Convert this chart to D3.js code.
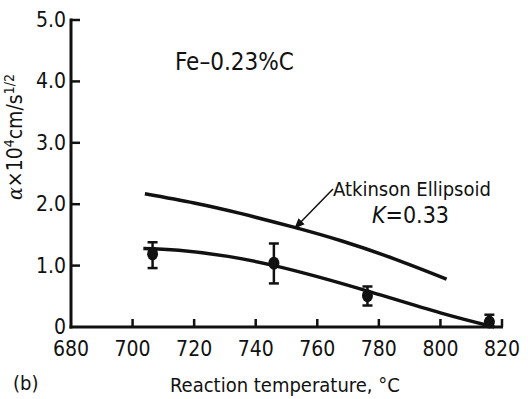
<!DOCTYPE html>
<html>
<head>
<meta charset="utf-8">
<script src="https://cdn.jsdelivr.net/npm/d3@7"></script>
<style>
  body { margin: 0; background: #fff; }
  svg text { font-family: "DejaVu Sans Condensed", "DejaVu Sans", sans-serif; font-stretch: condensed; fill: #111; }
</style>
</head>
<body>
<script>
// measured points (temperature, alpha, error low, error high)
var temps = [706.5, 745.9, 776.3, 815.9];
var alphas = [1.19, 1.04, 0.51, 0.08];
var errLow = [0.96, 0.71, 0.35, 0.0];
var errHigh = [1.38, 1.36, 0.66, 0.2];

// Atkinson ellipsoid curve, K = 0.33
var atkT = [704, 720, 735, 752, 768, 785, 802];
var atkA = [2.17, 2.02, 1.85, 1.63, 1.40, 1.11, 0.78];

// fitted curve through points
var fitT = [703.5, 715, 731, 746, 760, 778, 800, 817.5];
var fitA = [1.28, 1.25, 1.15, 1.0, 0.82, 0.56, 0.23, 0.0];

var xTicks = [680, 700, 720, 740, 760, 780, 800, 820];
var yTicks = [0, 1, 2, 3, 4, 5];

var W = 528, H = 399;
var svg = d3.select('body').append('svg').attr('width', W).attr('height', H);

var x = d3.scaleLinear().domain([680, 820]).range([71, 502]);
var y = d3.scaleLinear().domain([0, 5]).range([327, 20]);

// axes
svg.append('line').attr('x1', x(680)).attr('x2', x(680)).attr('y1', y(5) - 1.5).attr('y2', y(0) + 1.5)
    .attr('stroke', '#111').attr('stroke-width', 3);
svg.append('line').attr('x1', x(680) - 1.5).attr('x2', x(820) + 1).attr('y1', y(0)).attr('y2', y(0))
    .attr('stroke', '#111').attr('stroke-width', 3);

// y ticks (inward)
svg.selectAll('.ytick').data(yTicks.filter(function (d) { return d > 0; })).enter().append('line')
    .attr('class', 'ytick')
    .attr('x1', x(680)).attr('x2', x(680) + 9)
    .attr('y1', function (d) { return y(d); }).attr('y2', function (d) { return y(d); })
    .attr('stroke', '#111').attr('stroke-width', 2.5);

svg.selectAll('.ylab').data(yTicks).enter().append('text')
    .attr('class', 'ylab')
    .attr('x', 66).attr('y', function (d) { return y(d) + 7; })
    .attr('text-anchor', 'end').attr('font-size', 21)
    .text(function (d) { return d === 0 ? '0' : d.toFixed(1); });

// x ticks (inward)
svg.selectAll('.xtick').data(xTicks.filter(function (d) { return d > 680; })).enter().append('line')
    .attr('class', 'xtick')
    .attr('x1', function (d) { return x(d); }).attr('x2', function (d) { return x(d); })
    .attr('y1', y(0)).attr('y2', y(0) - 8)
    .attr('stroke', '#111').attr('stroke-width', 2.5);

svg.selectAll('.xlab').data(xTicks).enter().append('text')
    .attr('class', 'xlab')
    .attr('x', function (d) { return x(d); }).attr('y', 356)
    .attr('text-anchor', 'middle').attr('font-size', 21)
    .text(function (d) { return d; });

// curves
var line = d3.line()
    .x(function (d) { return x(d[0]); })
    .y(function (d) { return y(d[1]); })
    .curve(d3.curveNatural);

svg.append('path').datum(d3.zip(atkT, atkA)).attr('d', line)
    .attr('fill', 'none').attr('stroke', '#111').attr('stroke-width', 3.5);
svg.append('path').datum(d3.zip(fitT, fitA)).attr('d', line)
    .attr('fill', 'none').attr('stroke', '#111').attr('stroke-width', 3.5);

// error bars + points
var pts = temps.map(function (t, i) {
    return { t: t, a: alphas[i], lo: errLow[i], hi: errHigh[i] };
});
var g = svg.append('g');
g.selectAll('.eb').data(pts).enter().append('line')
    .attr('x1', function (d) { return x(d.t); }).attr('x2', function (d) { return x(d.t); })
    .attr('y1', function (d) { return y(d.lo); }).attr('y2', function (d) { return y(d.hi); })
    .attr('stroke', '#111').attr('stroke-width', 2.5);
g.selectAll('.capT').data(pts).enter().append('line')
    .attr('x1', function (d) { return x(d.t) - 5; }).attr('x2', function (d) { return x(d.t) + 5; })
    .attr('y1', function (d) { return y(d.hi); }).attr('y2', function (d) { return y(d.hi); })
    .attr('stroke', '#111').attr('stroke-width', 2.5);
g.selectAll('.capB').data(pts.filter(function (d) { return d.lo > 0; })).enter().append('line')
    .attr('x1', function (d) { return x(d.t) - 5; }).attr('x2', function (d) { return x(d.t) + 5; })
    .attr('y1', function (d) { return y(d.lo); }).attr('y2', function (d) { return y(d.lo); })
    .attr('stroke', '#111').attr('stroke-width', 2.5);
g.selectAll('.dot').data(pts).enter().append('ellipse')
    .attr('cx', function (d) { return x(d.t); }).attr('cy', function (d) { return y(d.a); })
    .attr('rx', 5.5).attr('ry', 6.5).attr('fill', '#111');

// annotations
svg.append('text').attr('x', 175).attr('y', 70).attr('font-size', 24).text('Fe\u20130.23%C');

svg.append('text').attr('x', 333).attr('y', 196).attr('font-size', 20).text('Atkinson Ellipsoid');
var kt = svg.append('text').attr('x', 372).attr('y', 223).attr('font-size', 23);
kt.append('tspan').attr('font-style', 'italic').text('K');
kt.append('tspan').text('=0.33');

svg.append('defs').append('marker').attr('id', 'ah')
    .attr('viewBox', '0 0 10 10').attr('refX', 9).attr('refY', 5)
    .attr('markerWidth', 7).attr('markerHeight', 7).attr('orient', 'auto')
    .append('path').attr('d', 'M0,1 L10,5 L0,9 Z').attr('fill', '#111');
svg.append('line').attr('x1', 333).attr('y1', 189).attr('x2', 295).attr('y2', 228)
    .attr('stroke', '#111').attr('stroke-width', 1.5).attr('marker-end', 'url(#ah)');

// axis titles
var yl = svg.append('text').attr('transform', 'translate(22,137) rotate(-90)')
    .attr('text-anchor', 'middle').attr('font-size', 21);
yl.append('tspan').attr('font-style', 'italic').attr('font-family', 'DejaVu Serif').text('\u03b1');
yl.append('tspan').text('\u00d710');
yl.append('tspan').attr('font-size', 14).attr('dy', -8).text('4');
yl.append('tspan').attr('dy', 8).text('cm/s');
yl.append('tspan').attr('font-size', 14).attr('dy', -8).text('1/2');

svg.append('text').attr('x', 170).attr('y', 392).attr('font-size', 20).text('Reaction  temperature, \u00b0C');
svg.append('text').attr('x', 13).attr('y', 390).attr('font-size', 20).text('(b)');
</script>
</body>
</html>
